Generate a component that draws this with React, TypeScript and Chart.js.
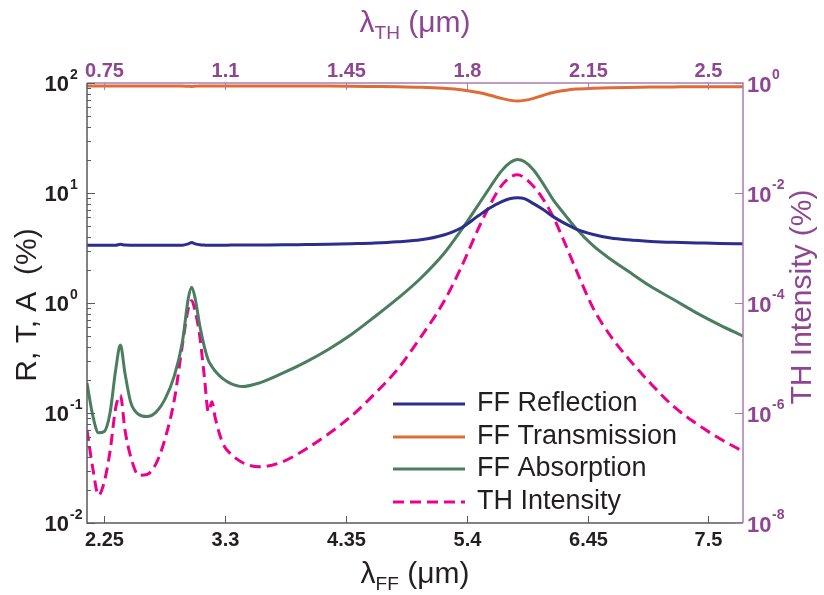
import React, { useEffect, useRef } from "react";
import { Chart, registerables } from "chart.js";

Chart.register(...registerables);

// ---------- data ----------
const ffWavelength = [
  2.10, 2.15, 2.20, 2.25, 2.30, 2.35, 2.39, 2.43, 2.48, 2.55,
  2.62, 2.70, 2.78, 2.86, 2.93, 2.98, 3.01, 3.04, 3.08, 3.12,
  3.155, 3.185, 3.215, 3.28, 3.35, 3.45, 3.60, 3.80, 4.00, 4.20,
  4.40, 4.60, 4.80, 5.00, 5.20, 5.35, 5.50, 5.60, 5.70, 5.78,
  5.84, 5.90, 5.98, 6.06, 6.15, 6.25, 6.35, 6.50, 6.65, 6.80,
  7.00, 7.20, 7.40, 7.60, 7.80,
];

const ffReflection = [
  3.35, 3.35, 3.35, 3.35, 3.35, 3.35, 3.42, 3.36, 3.35, 3.35,
  3.35, 3.35, 3.35, 3.35, 3.35, 3.45, 3.55, 3.45, 3.38, 3.36,
  3.35, 3.35, 3.35, 3.35, 3.36, 3.36, 3.37, 3.38, 3.40, 3.42,
  3.46, 3.51, 3.6, 3.75, 4.15, 4.8, 6.2, 7.3, 8.3, 8.9,
  9.05, 8.9, 8.0, 7.1, 6.1, 5.3, 4.7, 4.2, 3.9, 3.75,
  3.63, 3.56, 3.52, 3.48, 3.45,
];

const ffTransmission = [
  94, 94, 94, 94, 94, 94, 94, 94, 94, 94,
  94, 94, 94, 94, 94, 93.3, 93, 93.5, 94, 94,
  94, 94, 94, 94, 94, 94, 94, 94, 94, 93.8,
  93.5, 93, 92.5, 91.5, 89.5, 87, 82, 77.5, 72.5, 69.5,
  68.5, 69.5, 72.5, 77, 82, 85.5, 88, 89.5, 90.5, 91.2,
  91.8, 92.2, 92.5, 92.5, 92.5,
];

const ffAbsorption = [
  0.187, 0.095, 0.066, 0.068, 0.10, 0.25, 0.415, 0.23, 0.125, 0.097,
  0.093, 0.102, 0.135, 0.22, 0.45, 1.1, 1.39, 1.1, 0.62, 0.40,
  0.30, 0.265, 0.24, 0.205, 0.185, 0.174, 0.188, 0.23, 0.29, 0.38,
  0.52, 0.75, 1.1, 1.68, 2.8, 4.57, 7.8, 11.2, 15.8, 19.0,
  20.2, 19.3, 16.2, 12.3, 8.7, 6.4, 4.75, 3.3, 2.5, 1.95,
  1.41, 1.07, 0.81, 0.63, 0.5,
];

const thIntensity = [
  4.9e-7, 1.0e-7, 3.2e-8, 5.6e-8, 2.0e-7, 1.26e-6, 2.1e-6, 4.9e-7, 1.6e-7, 7.4e-8,
  7.6e-8, 1.2e-7, 3.5e-7, 1.8e-6, 1.8e-5, 7.9e-5, 1.1e-4, 7.1e-5, 2.5e-5, 4.5e-6,
  1.05e-6, 1.6e-6, 8e-7, 2.8e-7, 1.8e-7, 1.26e-7, 1.05e-7, 1.3e-7, 2.2e-7, 4.2e-7,
  8.9e-7, 2.24e-6, 6.3e-6, 2.4e-5, 1.05e-4, 4.4e-4, 2.24e-3, 6.0e-3, 0.0135, 0.0195,
  0.0214, 0.019, 0.0132, 7.9e-3, 3.7e-3, 1.26e-3, 4.0e-4, 7.9e-5, 2.5e-5, 1e-5,
  3.4e-6, 1.3e-6, 6.3e-7, 3.4e-7, 2e-7,
];

const ffTicks = [2.25, 3.3, 4.35, 5.4, 6.45, 7.5];
const thTicks = [0.75, 1.1, 1.45, 1.8, 2.15, 2.5];
const leftExponents = [-2, -1, 0, 1, 2];
const rightExponents = [-8, -6, -4, -2, 0];

const seriesLabels = ["FF Reflection", "FF Transmission", "FF Absorption", "TH Intensity"];

// ---------- styles ----------
const BLUE = "#2b2e8c";
const ORANGE = "#e06c35";
const GREEN = "#4b7d5f";
const PINK = "#ec008c";
const PURPLE = "#8e4592";
const PURPLE_LINE = "#a97db2";
const DARK = "#231f20";
const AXIS_DARK = "#5a5a5c";
const FONT = "'Liberation Sans', Arial, sans-serif";

function fmt(n: number) {
  return String(n);
}

const axesPlugin = {
  id: "customAxes",
  afterDraw(chart: any) {
    const ctx: CanvasRenderingContext2D = chart.ctx;
    const { left, right, top, bottom } = chart.chartArea;
    const sx = chart.scales.x;
    const sx2 = chart.scales.x2;
    const sy = chart.scales.y;
    const sy2 = chart.scales.y2;
    ctx.save();

    // axis lines
    ctx.lineWidth = 1.5;
    ctx.strokeStyle = AXIS_DARK;
    ctx.beginPath();
    ctx.moveTo(left, top);
    ctx.lineTo(left, bottom);
    ctx.lineTo(right, bottom);
    ctx.stroke();
    ctx.strokeStyle = PURPLE_LINE;
    ctx.beginPath();
    ctx.moveTo(left, top);
    ctx.lineTo(right, top);
    ctx.lineTo(right, bottom);
    ctx.stroke();

    // bottom ticks + labels
    ctx.strokeStyle = AXIS_DARK;
    ctx.lineWidth = 1;
    ctx.fillStyle = DARK;
    ctx.font = `bold 20px ${FONT}`;
    ctx.textAlign = "center";
    ctx.textBaseline = "top";
    ffTicks.forEach((v) => {
      const px = Math.round(sx.getPixelForValue(v)) + 0.5;
      ctx.beginPath();
      ctx.moveTo(px, bottom);
      ctx.lineTo(px, bottom - 7);
      ctx.stroke();
      ctx.fillText(fmt(v), px, bottom + 7);
    });

    // top ticks + labels
    ctx.strokeStyle = PURPLE_LINE;
    ctx.fillStyle = PURPLE;
    ctx.textBaseline = "alphabetic";
    thTicks.forEach((v) => {
      const px = Math.round(sx2.getPixelForValue(v)) + 0.5;
      ctx.beginPath();
      ctx.moveTo(px, top);
      ctx.lineTo(px, top + 7);
      ctx.stroke();
      ctx.fillText(fmt(v), px, top - 6);
    });

    // left ticks (major + minor)
    ctx.strokeStyle = AXIS_DARK;
    for (let e = -2; e <= 2; e++) {
      for (let m = 1; m <= 9; m++) {
        const val = m * Math.pow(10, e);
        if (val > 100 + 1e-9) continue;
        const py = Math.round(sy.getPixelForValue(val)) + 0.5;
        const len = m === 1 ? 8 : 4;
        ctx.beginPath();
        ctx.moveTo(left, py);
        ctx.lineTo(left + len, py);
        ctx.stroke();
      }
    }
    // left labels
    ctx.fillStyle = DARK;
    leftExponents.forEach((e) => {
      const py = sy.getPixelForValue(Math.pow(10, e));
      ctx.font = `bold 22px ${FONT}`;
      ctx.textAlign = "right";
      ctx.textBaseline = "middle";
      ctx.fillText("10", 69, py + 2);
      ctx.font = `bold 14px ${FONT}`;
      ctx.textAlign = "left";
      ctx.fillText(String(e), 70, py - 8);
    });

    // right ticks + labels
    ctx.strokeStyle = PURPLE_LINE;
    ctx.fillStyle = PURPLE;
    rightExponents.forEach((e) => {
      const py = Math.round(sy2.getPixelForValue(Math.pow(10, e))) + 0.5;
      ctx.beginPath();
      ctx.moveTo(right, py);
      ctx.lineTo(right - 8, py);
      ctx.stroke();
      ctx.font = `bold 22px ${FONT}`;
      ctx.textAlign = "left";
      ctx.textBaseline = "middle";
      ctx.fillText("10", right + 4, py + 2);
      ctx.font = `bold 14px ${FONT}`;
      ctx.fillText(String(e), right + 29, py - 8);
    });

    // axis titles
    const drawLambda = (sub: string, cx: number, baseY: number, color: string) => {
      ctx.fillStyle = color;
      ctx.textBaseline = "alphabetic";
      ctx.textAlign = "left";
      ctx.font = `30px ${FONT}`;
      const wL = ctx.measureText("λ").width;
      const rest = " (μm)";
      const wR = ctx.measureText(rest).width;
      ctx.font = `19px ${FONT}`;
      const wS = ctx.measureText(sub).width;
      const total = wL + wS + wR;
      let x = cx - total / 2;
      ctx.font = `30px ${FONT}`;
      ctx.fillText("λ", x, baseY);
      x += wL;
      ctx.font = `19px ${FONT}`;
      ctx.fillText(sub, x, baseY + 7);
      x += wS;
      ctx.font = `30px ${FONT}`;
      ctx.fillText(rest, x, baseY);
    };
    drawLambda("FF", (left + right) / 2, 583, DARK);
    drawLambda("TH", (left + right) / 2, 32, PURPLE);

    ctx.font = `30px ${FONT}`;
    ctx.textAlign = "center";
    ctx.textBaseline = "middle";
    ctx.save();
    ctx.translate(28, 305);
    ctx.rotate(-Math.PI / 2);
    ctx.fillStyle = DARK;
    ctx.fillText("R, T, A  (%)", 0, 0);
    ctx.restore();
    ctx.save();
    ctx.translate(803, 297);
    ctx.rotate(-Math.PI / 2);
    ctx.fillStyle = PURPLE;
    ctx.fillText("TH Intensity (%)", 0, 0);
    ctx.restore();

    // legend
    const rows = [404, 437, 469, 502];
    chart.data.datasets.forEach((ds: any, i: number) => {
      const y = rows[i];
      ctx.strokeStyle = ds.borderColor;
      ctx.lineWidth = 3;
      ctx.setLineDash(ds.borderDash || []);
      ctx.beginPath();
      ctx.moveTo(393, y);
      ctx.lineTo(465, y);
      ctx.stroke();
      ctx.setLineDash([]);
      ctx.fillStyle = DARK;
      ctx.font = `27px ${FONT}`;
      ctx.textAlign = "left";
      ctx.textBaseline = "middle";
      ctx.fillText(ds.label, 477, y);
    });

    ctx.restore();
  },
};

export default function App() {
  const canvasRef = useRef<HTMLCanvasElement | null>(null);

  useEffect(() => {
    if (!canvasRef.current) return;
    const pts = (arr: number[]) => ffWavelength.map((x, i) => ({ x, y: arr[i] }));
    const common = {
      pointRadius: 0,
      borderWidth: 3,
      cubicInterpolationMode: "monotone" as const,
      fill: false,
    };
    const chart = new Chart(canvasRef.current, {
      type: "line",
      data: {
        datasets: [
          { ...common, label: seriesLabels[0], data: pts(ffReflection), borderColor: BLUE, yAxisID: "y" },
          { ...common, label: seriesLabels[1], data: pts(ffTransmission), borderColor: ORANGE, yAxisID: "y" },
          { ...common, label: seriesLabels[2], data: pts(ffAbsorption), borderColor: GREEN, yAxisID: "y" },
          { ...common, label: seriesLabels[3], data: pts(thIntensity), borderColor: PINK, borderDash: [11, 6], yAxisID: "y2" },
        ],
      },
      options: {
        responsive: false,
        animation: false,
        devicePixelRatio: 1,
        layout: { padding: { left: 87, right: 81, top: 83, bottom: 72 } },
        plugins: { legend: { display: false }, tooltip: { enabled: false } },
        scales: {
          x: { type: "linear", min: 2.1, max: 7.8, display: false },
          x2: { type: "linear", min: 0.7, max: 2.6, display: false, position: "top" },
          y: { type: "logarithmic", min: 0.01, max: 100, display: false },
          y2: { type: "logarithmic", min: 1e-8, max: 1, display: false, position: "right" },
        },
      },
      plugins: [axesPlugin],
    });
    return () => chart.destroy();
  }, []);

  return (
    <div style={{ position: "absolute", left: 0, top: 0, width: 824, height: 595, background: "#fff" }}>
      <canvas ref={canvasRef} width={824} height={595} style={{ display: "block" }} />
    </div>
  );
}
